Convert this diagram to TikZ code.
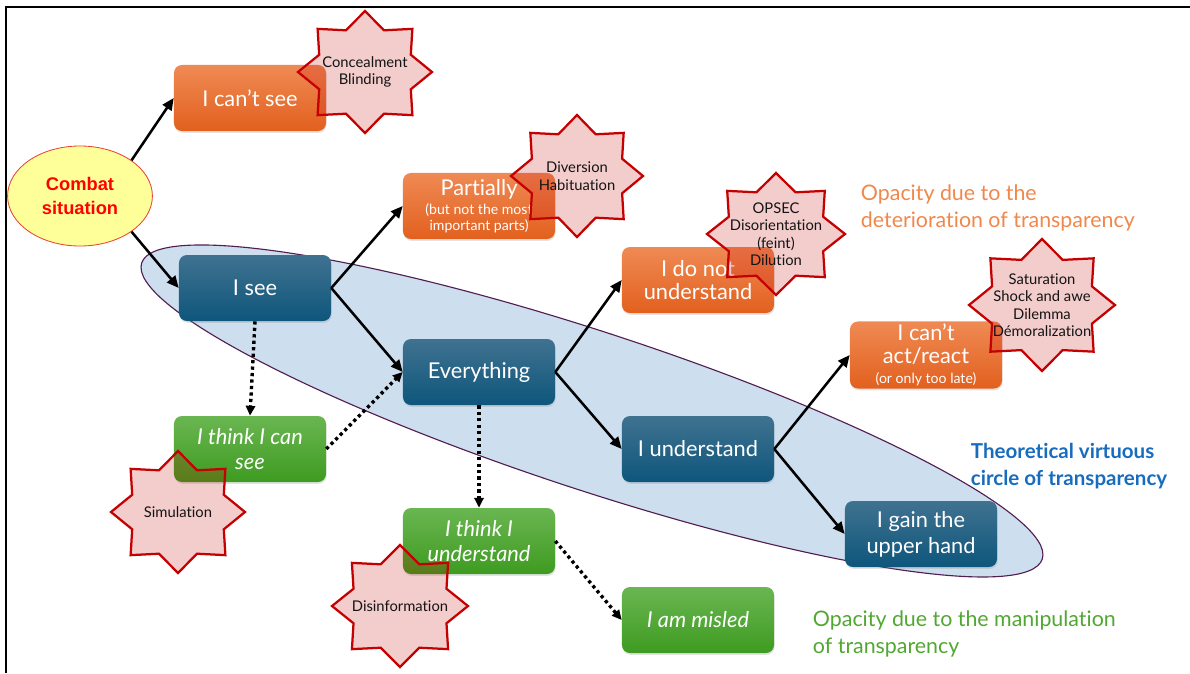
\documentclass[tikz,border=0pt]{standalone}
\usepackage{fontspec}
\setmainfont{Lato}[Ligatures=NoCommon]
\newfontfamily\arialfont{Liberation Sans}
\usetikzlibrary{arrows.meta,shadows,shapes.geometric}

\definecolor{orgtop}{RGB}{239,138,84}
\definecolor{orgbot}{RGB}{226,96,30}
\definecolor{bluetop}{RGB}{64,114,144}
\definecolor{bluebot}{RGB}{14,86,124}
\definecolor{grntop}{RGB}{106,182,82}
\definecolor{grnbot}{RGB}{62,155,32}
\definecolor{starred}{RGB}{196,0,0}
\definecolor{ovalfill}{RGB}{205,222,238}
\definecolor{ovalline}{RGB}{82,30,82}
\definecolor{txtorange}{RGB}{240,135,75}
\definecolor{txtblue}{RGB}{24,108,190}
\definecolor{txtgreen}{RGB}{80,168,48}
\definecolor{combatfill}{RGB}{255,255,153}
\definecolor{combatline}{RGB}{232,70,50}

% eight-pointed burst around a named centre: #1 centre, #2 x radius, #3 y radius
\newcommand{\starburst}[3]{%
  \draw[burst, shift={(#1)}] plot[samples at={0,...,15}, variable=\k]
    ({#2*(1-0.26*isodd(\k))*cos(\k*22.5)}, {#3*(1-0.26*isodd(\k))*sin(\k*22.5)}) -- cycle;}

\begin{document}
\begin{tikzpicture}[x=0.025cm, y=-0.025cm,
  box/.style={rounded corners=0.2cm, minimum width=3.8cm, minimum height=1.65cm,
    inner sep=2pt, align=center, text=white,
    font=\fontsize{15.5}{18.4}\selectfont,
    drop shadow={opacity=0.22, shadow xshift=0.4pt, shadow yshift=-1.3pt}},
  orangebox/.style={box, top color=orgtop, bottom color=orgbot},
  bluebox/.style={box, top color=bluetop, bottom color=bluebot},
  greenbox/.style={box, top color=grntop, bottom color=grnbot,
    font=\fontsize{15.5}{18.4}\selectfont\itshape},
  burst/.style={draw=starred, line width=1.6pt, fill=starred, fill opacity=0.2, line join=miter},
  bursttext/.style={align=center, text=black!92, font=\fontsize{10.5}{12.4}\selectfont},
  flow/.style={-{Triangle[length=8.5pt,width=7.5pt]}, line width=1.8pt},
  dotflow/.style={-{Triangle[length=7pt,width=6.5pt]}, line width=2.4pt, dash pattern=on 2.3pt off 2.3pt},
  note/.style={anchor=west, align=left, font=\fontsize{15.2}{18.8}\selectfont}
]
\useasboundingbox (0,0) rectangle (1190,673);

% outer frame
\draw[line width=1.6pt] (6,673) -- (6,7) -- (1190,7);

% virtuous circle
\coordinate (ovc) at (592,411);
\draw[fill=ovalfill, draw=ovalline, line width=0.8pt, rotate around={-18.2:(ovc)}]
  (ovc) ellipse [x radius=474, y radius=79];

% start
\node[ellipse, draw=combatline, line width=0.6pt, fill=combatfill, minimum width=3.62cm,
  minimum height=2.5cm, inner sep=0pt, align=center, text=red,
  font=\arialfont\bfseries\fontsize{13}{17}\selectfont] (combat) at (80,196) {Combat\\situation};

% boxes
\node[orangebox] (icansee) at (250,98) {I can’t see};
\node[orangebox] (partially) at (479,206) {Partially\\[-5pt]{\fontsize{10}{12}\selectfont (but not the most}\\[-7.2pt]{\fontsize{10}{12}\selectfont important parts)}};
\node[bluebox] (isee) at (255,288) {I see};
\node[bluebox] (everything) at (479,372) {Everything};
\node[greenbox] (thinksee) at (250,449) {I think I can\\see};
\node[orangebox] (donot) at (698,280) {I do not\\[-1.5pt]understand};
\node[bluebox] (understand) at (698,449) {I understand};
\node[greenbox] (thinkund) at (479,541) {I think I\\understand};
\node[greenbox] (misled) at (698,620) {I am misled};
\node[orangebox] (cantact) at (926,355) {I can’t\\[-2.2pt]act/react\\[-4.5pt]{\fontsize{10}{12}\selectfont (or only too late)}};
\node[bluebox] (gain) at (921,534) {I gain the\\upper hand};

% connectors
\draw[flow] (combat.north east) -- (icansee.west);
\draw[flow] (combat.south east) -- (isee.west);
\draw[flow] (isee.east) -- (partially.west);
\draw[flow] (isee.east) -- (everything.west);
\draw[flow] (everything.east) -- (donot.west);
\draw[flow] (everything.east) -- (understand.west);
\draw[flow] (understand.east) -- (cantact.west);
\draw[flow] (understand.east) -- (gain.west);
\draw[dotflow] (isee.south) -- (thinksee.north);
\draw[dotflow] (thinksee.east) -- (everything.west);
\draw[dotflow] (everything.south) -- (thinkund.north);
\draw[dotflow] (thinkund.east) -- (misled.west);

% means of opacity
\coordinate (b1) at (365,72);
\coordinate (b2) at (577,176);
\coordinate (b3) at (776,234);
\coordinate (b4) at (1042,305);
\coordinate (b5) at (178,512);
\coordinate (b6) at (400,606);
\starburst{b1}{67}{61}
\starburst{b2}{66}{61}
\starburst{b3}{69}{61}
\starburst{b4}{73}{66}
\starburst{b5}{67}{61}
\starburst{b6}{68}{61}
\node[bursttext] (t1) at (b1) {Concealment\\Blinding};
\node[bursttext] (t2) at (b2) {Diversion\\Habituation};
\node[bursttext] (t3) at (b3) {OPSEC\\Disorientation\\(feint)\\Dilution};
\node[bursttext] (t4) at (b4) {Saturation\\Shock and awe\\Dilemma\\Démoralization};
\node[bursttext] (t5) at (b5) {Simulation};
\node[bursttext] (t6) at (b6) {Disinformation};

% captions
\node[note, text=txtorange] (capdet) at (856,208) {Opacity due to the\\deterioration of transparency};
\node[note, text=txtblue, font=\bfseries\fontsize{14.6}{19}\selectfont] (capvirt) at (966,466) {Theoretical virtuous\\circle of transparency};
\node[note, text=txtgreen] (capman) at (808,634) {Opacity due to the manipulation\\of transparency};
\end{tikzpicture}
\end{document}
